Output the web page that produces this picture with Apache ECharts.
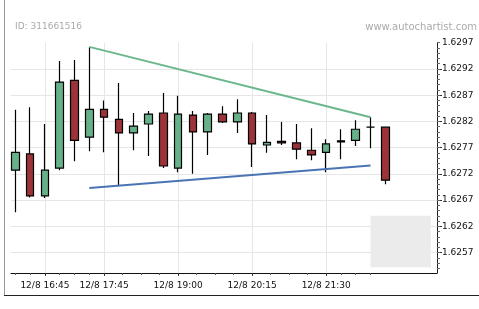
<!DOCTYPE html>
<html><head><meta charset="utf-8">
<script src="https://cdn.jsdelivr.net/npm/echarts@6/dist/echarts.min.js"></script>
<style>html,body{margin:0;padding:0;background:#fff}#c{width:479px;height:309px}</style>
</head><body><div id="c"></div>
<script>
// 15-minute candles, 12/8 16:15 .. 22:30
const categories = ['12/8 16:15','12/8 16:30','12/8 16:45','12/8 17:00','12/8 17:15','12/8 17:30','12/8 17:45','12/8 18:00','12/8 18:15','12/8 18:30','12/8 18:45','12/8 19:00','12/8 19:15','12/8 19:30','12/8 19:45','12/8 20:00','12/8 20:15','12/8 20:30','12/8 20:45','12/8 21:00','12/8 21:15','12/8 21:30','12/8 21:45','12/8 22:00','12/8 22:15','12/8 22:30'];
const opens  = [1.62727,1.62758,1.62678,1.62731,1.62898,1.62790,1.62843,1.62824,1.62798,1.62815,1.62836,1.62731,1.62832,1.62800,1.62834,1.62819,1.62836,1.62775,1.62782,1.62779,1.62765,1.62761,1.62781,1.62784,1.62809,1.62809];
const closes = [1.62761,1.62678,1.62727,1.62895,1.62784,1.62843,1.62828,1.62798,1.62811,1.62834,1.62735,1.62834,1.62800,1.62834,1.62819,1.62836,1.62777,1.62780,1.62779,1.62767,1.62756,1.62777,1.62783,1.62805,1.62809,1.62708];
const lows   = [1.62647,1.62675,1.62674,1.62727,1.62744,1.62763,1.62761,1.62698,1.62765,1.62754,1.62731,1.62723,1.62720,1.62756,1.62817,1.62798,1.62733,1.62760,1.62775,1.62748,1.62746,1.62723,1.62748,1.62773,1.62769,1.62700];
const highs  = [1.62842,1.62847,1.62815,1.62935,1.62937,1.62962,1.62860,1.62893,1.62836,1.62840,1.62874,1.62869,1.62840,1.62836,1.62849,1.62862,1.62838,1.62832,1.62819,1.62815,1.62807,1.62786,1.62805,1.62822,1.62828,1.62809];

// trend lines [category, value]
const resistanceLine = [['12/8 17:30',1.62962],['12/8 22:15',1.62828]];
const supportLine    = [['12/8 17:30',1.62693],['12/8 22:15',1.62736]];
// forecast zone: x range in candle slots, price range
const forecastX = [24, 28.07];
const forecastY = [1.62542, 1.62640];

const xTickLabels = ['12/8 16:45','12/8 17:45','12/8 19:00','12/8 20:15','12/8 21:30'];
const xMinorTicks = [0,1,3,4,5,7.25,8.5,9.75,12.25,13.5,14.75,17.25,18.5,19.75,22,23,24];
const yTickLabels = [1.6257,1.6262,1.6267,1.6272,1.6277,1.6282,1.6287,1.6292,1.6297];
const yMin = 1.62531, yMax = 1.6297;

const idx = c => categories.indexOf(c);
const candleData = categories.map((c,i)=>[i, opens[i], closes[i], lows[i], highs[i]]);
const xLabelPos = xTickLabels.map(idx);
const yMinor = [];
for (let k = 1.6254; k <= yMax + 1e-9; k += 0.0001) yMinor.push(+k.toFixed(4));

const FONT = 'DejaVu Sans';
const gridBox = {left:11, right:42, top:42.7, bottom:36, containLabel:false};
const chart = echarts.init(document.getElementById('c'), null, {renderer:'canvas'});
chart.setOption({
  animation:false,
  backgroundColor:'#fff',
  grid:[Object.assign({}, gridBox), Object.assign({}, gridBox)],
  xAxis:[{
    type:'value', min:-0.29, max:28.49, gridIndex:0, position:'bottom',
    axisLine:{show:true, onZero:false, lineStyle:{color:'#111', width:1}},
    axisTick:{show:true, length:3, customValues:xLabelPos, lineStyle:{color:'#333'}},
    axisLabel:{customValues:xLabelPos, formatter:v=>categories[Math.round(v)], color:'#111', fontFamily:FONT, fontSize:9, margin:8},
    splitLine:{show:true, lineStyle:{color:'#e6e6e6', width:1}}
  },{
    type:'value', min:-0.29, max:28.49, gridIndex:1, position:'bottom',
    axisLine:{show:false, onZero:false},
    axisTick:{show:true, length:2, customValues:xMinorTicks, lineStyle:{color:'#555'}},
    axisLabel:{show:false}, splitLine:{show:false}
  }],
  yAxis:[{
    type:'value', min:yMin, max:yMax, position:'right', gridIndex:0,
    axisLine:{show:true, onZero:false, lineStyle:{color:'#222', width:1}},
    axisTick:{show:true, length:5, customValues:yTickLabels.slice(0,-1), lineStyle:{color:'#333'}},
    axisLabel:{customValues:yTickLabels, formatter:v=>v.toFixed(4), color:'#111', fontFamily:FONT, fontSize:9, margin:5},
    splitLine:{show:true, lineStyle:{color:'#e6e6e6', width:1}}
  },{
    type:'value', min:yMin, max:yMax, position:'right', gridIndex:1,
    axisLine:{show:false, onZero:false},
    axisTick:{show:true, length:3, customValues:yMinor, lineStyle:{color:'#666'}},
    axisLabel:{show:false}, splitLine:{show:false}
  }],
  series:[{
    type:'candlestick', data:candleData, encode:{x:0, y:[1,2,3,4]},
    xAxisIndex:0, yAxisIndex:0,
    barWidth:8,
    itemStyle:{color:'#66b18a', color0:'#9b3338', borderColor:'#000', borderColor0:'#000', borderColorDoji:'#000', borderWidth:1.2},
    markArea:{silent:true, itemStyle:{color:'#ebebeb'}, data:[[{coord:[forecastX[0], forecastY[1]]},{coord:[forecastX[1], forecastY[0]]}]]},
    z:3
  },{
    type:'line', data:resistanceLine.map(p=>[idx(p[0]),p[1]]), symbol:'none',
    xAxisIndex:0, yAxisIndex:0,
    lineStyle:{color:'#6ab78c', width:2}, z:4
  },{
    type:'line', data:supportLine.map(p=>[idx(p[0]),p[1]]), symbol:'none',
    xAxisIndex:0, yAxisIndex:0,
    lineStyle:{color:'#4a74b2', width:2}, z:4
  }],
  graphic:[
    {type:'line', shape:{x1:4.5,y1:0,x2:4.5,y2:296}, style:{stroke:'#999', lineWidth:1}},
    {type:'line', shape:{x1:4,y1:295.5,x2:479,y2:295.5}, style:{stroke:'#222', lineWidth:1}},
    {type:'text', left:15, top:22, style:{text:'ID: 311661516', fill:'#aaa', font:'9px "DejaVu Sans"'}},
    {type:'text', right:2, top:22, style:{text:'www.autochartist.com', fill:'#aaa', font:'10px "DejaVu Sans"'}}
  ]
});
</script></body></html>
